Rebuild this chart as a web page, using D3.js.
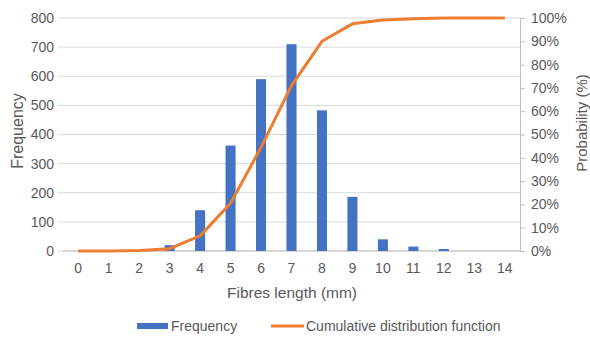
<!DOCTYPE html>
<html>
<head>
<meta charset="utf-8">
<script src="https://cdn.jsdelivr.net/npm/d3@7"></script>
<style>
  body { margin: 0; background: #fff; }
  text { font-family: "Liberation Sans", Arial, sans-serif; fill: #595959; }
</style>
</head>
<body>
<div id="chart"></div>
<script>
// data
var lengths = [0, 1, 2, 3, 4, 5, 6, 7, 8, 9, 10, 11, 12, 13, 14];
var frequency = [0, 0, 0, 20, 140, 362, 590, 710, 483, 186, 40, 15, 7, 0, 0];
var cdf = [0, 0, 0.002, 0.01, 0.065, 0.205, 0.445, 0.71, 0.90, 0.975, 0.991, 0.997, 1, 1, 1];
var freqTicks = [0, 100, 200, 300, 400, 500, 600, 700, 800];
var probTicks = [0, 0.1, 0.2, 0.3, 0.4, 0.5, 0.6, 0.7, 0.8, 0.9, 1];

var width = 590, height = 338;
var margin = {top: 18, right: 70, bottom: 87, left: 63};

var svg = d3.select("#chart").append("svg")
    .attr("width", width)
    .attr("height", height);

var x = d3.scaleBand()
    .domain(lengths)
    .range([margin.left, width - margin.right])
    .paddingInner(0.67)
    .paddingOuter(0.335);

var y = d3.scaleLinear().domain([0, 800]).range([height - margin.bottom, margin.top]);
var y2 = d3.scaleLinear().domain([0, 1]).range([height - margin.bottom, margin.top]);

// gridlines
svg.append("g")
    .selectAll("line")
    .data(freqTicks)
  .enter().append("line")
    .attr("x1", margin.left - 5)
    .attr("x2", width - margin.right)
    .attr("y1", d => y(d))
    .attr("y2", d => y(d))
    .style("stroke", "#d9d9d9")
    .style("stroke-width", 1);

// left axis labels
svg.append("g")
    .selectAll("text")
    .data(freqTicks)
  .enter().append("text")
    .attr("x", margin.left - 9)
    .attr("y", d => y(d))
    .attr("dy", "0.35em")
    .attr("text-anchor", "end")
    .style("font-size", "14px")
    .text(d => d);

// right axis
var yAxisR = d3.axisRight(y2)
    .tickValues(probTicks)
    .tickFormat(d3.format(".0%"))
    .tickSize(5)
    .tickPadding(6);

var gR = svg.append("g")
    .attr("transform", "translate(" + (width - margin.right) + ",0)")
    .call(yAxisR);
gR.select(".domain").style("stroke", "#bfbfbf");
gR.selectAll(".tick line").style("stroke", "#bfbfbf");
gR.selectAll(".tick text")
    .style("font-size", "14px")
    .style("font-family", "Liberation Sans, Arial, sans-serif")
    .style("fill", "#595959");

// bottom axis line
svg.append("line")
    .attr("x1", margin.left)
    .attr("x2", width - margin.right)
    .attr("y1", y(0))
    .attr("y2", y(0))
    .style("stroke", "#bfbfbf");

// x labels
svg.append("g")
    .selectAll("text")
    .data(lengths)
  .enter().append("text")
    .attr("x", d => x(d) + x.bandwidth() / 2)
    .attr("y", y(0) + 17)
    .attr("dy", "0.35em")
    .attr("text-anchor", "middle")
    .style("font-size", "14px")
    .text(d => d);

// bars
svg.append("g")
    .selectAll("rect")
    .data(lengths)
  .enter().append("rect")
    .attr("x", d => x(d))
    .attr("width", x.bandwidth())
    .attr("y", (d, i) => y(frequency[i]))
    .attr("height", (d, i) => y(0) - y(frequency[i]))
    .style("fill", "#4472c4");

// cumulative line
var line = d3.line()
    .x((d, i) => x(lengths[i]) + x.bandwidth() / 2)
    .y(d => y2(d));

svg.append("path")
    .datum(cdf)
    .attr("d", line)
    .style("fill", "none")
    .style("stroke", "#ed7d31")
    .style("stroke-width", 3)
    .style("stroke-linejoin", "round");

// axis titles
svg.append("text")
    .attr("transform", "translate(17,131) rotate(-90)")
    .attr("text-anchor", "middle")
    .attr("dy", "0.35em")
    .style("font-size", "16px")
    .text("Frequency");

svg.append("text")
    .attr("transform", "translate(582,123) rotate(-90)")
    .attr("text-anchor", "middle")
    .attr("dy", "0.35em")
    .style("font-size", "15px")
    .text("Probability (%)");

svg.append("text")
    .attr("x", 292)
    .attr("y", 293)
    .attr("dy", "0.35em")
    .attr("text-anchor", "middle")
    .style("font-size", "15.5px")
    .text("Fibres length (mm)");

// legend
var legend = svg.append("g");
legend.append("rect")
    .attr("x", 137).attr("y", 323)
    .attr("width", 31).attr("height", 6)
    .style("fill", "#4472c4");
legend.append("text")
    .attr("x", 171).attr("y", 326)
    .attr("dy", "0.35em")
    .style("font-size", "14px")
    .text("Frequency");
legend.append("line")
    .attr("x1", 271).attr("x2", 304)
    .attr("y1", 326).attr("y2", 326)
    .style("stroke", "#ed7d31")
    .style("stroke-width", 3);
legend.append("text")
    .attr("x", 306).attr("y", 326)
    .attr("dy", "0.35em")
    .style("font-size", "14px")
    .text("Cumulative distribution function");
</script>
</body>
</html>
